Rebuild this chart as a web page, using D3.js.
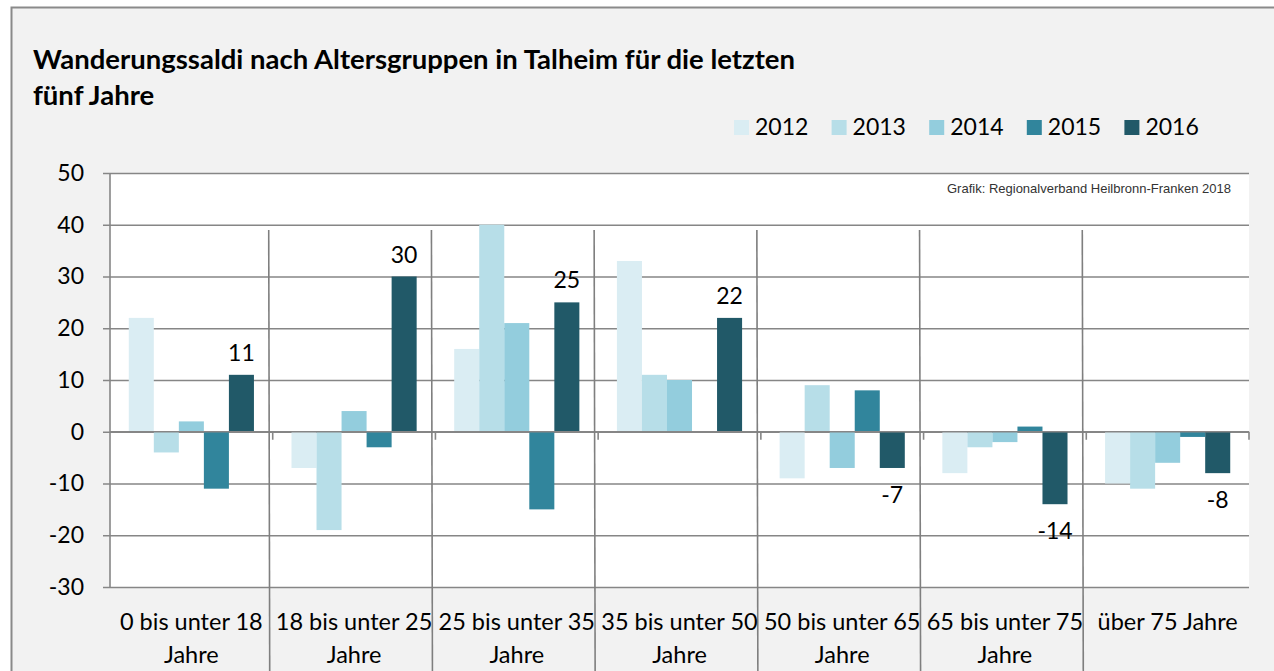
<!DOCTYPE html>
<html>
<head>
<meta charset="utf-8">
<script src="https://cdn.jsdelivr.net/npm/d3@7"></script>
<style>
  body { margin: 0; background: #ffffff; }
  svg { display: block; font-family: Lato, "Open Sans", sans-serif; }
</style>
</head>
<body>
<div class="chart"></div>
<script>
// data
let YEARS = ["2012", "2013", "2014", "2015", "2016"];
let CATEGORIES = [
  ["0 bis unter 18", "Jahre"],
  ["18 bis unter 25", "Jahre"],
  ["25 bis unter 35", "Jahre"],
  ["35 bis unter 50", "Jahre"],
  ["50 bis unter 65", "Jahre"],
  ["65 bis unter 75", "Jahre"],
  ["über 75 Jahre"]
];
let V2012 = [22, -7, 16, 33, -9, -8, -10];
let V2013 = [-4, -19, 40, 11, 9, -3, -11];
let V2014 = [2, 4, 21, 10, -7, -2, -6];
let V2015 = [-11, -3, -15, 0, 8, 1, -1];
let V2016 = [11, 30, 25, 22, -7, -14, -8];
let Y_TICKS = [50, 40, 30, 20, 10, 0, -10, -20, -30];
let COLORS = ["#daedf3", "#b7dee8", "#93cddd", "#31859c", "#215968"];

let FRAME_WIDTH = 1274;
let FRAME_HEIGHT = 671;
let PLOT = {left: 110, right: 1249, top: 173, bottom: 587};

let series = [V2012, V2013, V2014, V2015, V2016];

let FRAME = d3.select(".chart")
              .append("svg")
              .attr("width", FRAME_WIDTH)
              .attr("height", FRAME_HEIGHT);

// grey outer frame
FRAME.append("rect")
     .attr("x", 11.5).attr("y", 7.5)
     .attr("width", FRAME_WIDTH + 20).attr("height", FRAME_HEIGHT + 20)
     .attr("fill", "#f2f2f2")
     .attr("stroke", "#8a8a8a")
     .attr("stroke-width", 2);

// title
let title = FRAME.append("text")
     .attr("x", 33)
     .attr("y", 69)
     .style("font-weight", "bold")
     .style("font-size", "27.5px")
     .attr("fill", "#000");
title.append("tspan").attr("x", 33).text("Wanderungssaldi nach Altersgruppen in Talheim für die letzten");
title.append("tspan").attr("x", 33).attr("dy", 36).text("fünf Jahre");

// scales
const X_SCALE = d3.scaleBand()
                  .domain(d3.range(CATEGORIES.length))
                  .range([PLOT.left, PLOT.right]);

const BW = X_SCALE.bandwidth();
const BAR_W = BW / (YEARS.length + 1.5);

const X_INNER = d3.scaleBand()
                  .domain(YEARS)
                  .range([BAR_W * 0.75, BW - BAR_W * 0.75]);

const Y_SCALE = d3.scaleLinear()
                  .domain([-30, 50])
                  .range([PLOT.bottom, PLOT.top]);

// plot background
FRAME.append("rect")
     .attr("x", PLOT.left).attr("y", PLOT.top)
     .attr("width", PLOT.right - PLOT.left)
     .attr("height", PLOT.bottom - PLOT.top)
     .attr("fill", "#ffffff");

// gridlines + y ticks
FRAME.append("g")
     .attr("transform", "translate(" + PLOT.left + ",0)")
     .call(d3.axisLeft(Y_SCALE)
             .tickValues(Y_TICKS)
             .tickSize(-(PLOT.right - PLOT.left))
             .tickPadding(26)
             .tickFormat(d => String(d)))
     .call(g => g.select(".domain").remove())
     .call(g => g.selectAll(".tick line")
                 .attr("x1", -7)
                 .attr("stroke", "#868686")
                 .attr("stroke-width", 1.6))
     .call(g => g.selectAll(".tick text")
                 .attr("fill", "#000")
                 .style("font-size", "23px")
                 .style("font-family", "Lato, sans-serif"));

// y axis line
FRAME.append("line")
     .attr("x1", PLOT.left).attr("x2", PLOT.left)
     .attr("y1", PLOT.top).attr("y2", PLOT.bottom)
     .attr("stroke", "#868686")
     .attr("stroke-width", 1.6);

// bars
for (let s = 0; s < YEARS.length; s++) {
  FRAME.append("g")
       .selectAll("rect")
       .data(series[s])
       .enter()
       .append("rect")
         .attr("x", (d, i) => X_SCALE(i) + X_INNER(YEARS[s]))
         .attr("y", d => Y_SCALE(Math.max(0, d)))
         .attr("width", X_INNER.bandwidth())
         .attr("height", d => Math.abs(Y_SCALE(d) - Y_SCALE(0)))
         .attr("fill", COLORS[s]);
}

// category axis through zero
FRAME.append("g")
     .selectAll("line")
     .data(d3.range(1, CATEGORIES.length + 1))
     .enter()
     .append("line")
       .attr("x1", i => PLOT.left + i * BW)
       .attr("x2", i => PLOT.left + i * BW)
       .attr("y1", Y_SCALE(0))
       .attr("y2", Y_SCALE(0) + 8)
       .attr("stroke", "#868686")
       .attr("stroke-width", 1.6);

FRAME.append("line")
     .attr("x1", PLOT.left).attr("x2", PLOT.right)
     .attr("y1", Y_SCALE(0)).attr("y2", Y_SCALE(0))
     .attr("stroke", "#868686")
     .attr("stroke-width", 1.6);

// separator lines between groups
FRAME.append("g")
     .selectAll("line")
     .data(d3.range(1, CATEGORIES.length))
     .enter()
     .append("line")
       .attr("x1", i => PLOT.left + i * BW - 4)
       .attr("x2", i => PLOT.left + i * BW - 3)
       .attr("y1", 230)
       .attr("y2", FRAME_HEIGHT)
       .attr("stroke", "#7f7f7f")
       .attr("stroke-width", 1.6);

// data labels on 2016
FRAME.append("g")
     .selectAll("text")
     .data(V2016)
     .enter()
     .append("text")
       .attr("x", (d, i) => X_SCALE(i) + X_INNER("2016") + X_INNER.bandwidth() / 2)
       .attr("y", d => d >= 0 ? Y_SCALE(d) - 14 : Y_SCALE(d) + 35)
       .attr("text-anchor", "middle")
       .style("font-size", "23px")
       .attr("fill", "#000")
       .text(d => d);

// category labels
let catLabels = FRAME.append("g")
     .selectAll("text")
     .data(CATEGORIES)
     .enter()
     .append("text")
       .attr("text-anchor", "middle")
       .style("font-size", "23.5px")
       .attr("fill", "#000")
       .attr("y", 630);

catLabels.selectAll("tspan")
     .data((d, i) => d.map(t => ({t: t, i: i})))
     .enter()
     .append("tspan")
       .attr("x", d => X_SCALE(d.i) + BW / 2)
       .attr("dy", (d, j) => j === 0 ? 0 : 33)
       .text(d => d.t);

// legend
let legend = FRAME.append("g")
     .selectAll("g")
     .data(YEARS)
     .enter()
     .append("g")
       .attr("transform", (d, i) => "translate(" + (734 + i * 97.6) + ",120)");

legend.append("rect")
      .attr("width", 15).attr("height", 15)
      .attr("fill", (d, i) => COLORS[i]);

legend.append("text")
      .attr("x", 21)
      .attr("y", 15)
      .style("font-size", "23px")
      .attr("fill", "#000")
      .text(d => d);

// source note
FRAME.append("text")
     .attr("x", 1231)
     .attr("y", 193)
     .attr("text-anchor", "end")
     .style("font-family", "'Liberation Sans', Arial, sans-serif")
     .style("font-size", "13px")
     .attr("fill", "#333")
     .text("Grafik: Regionalverband Heilbronn-Franken 2018");
</script>
</body>
</html>
